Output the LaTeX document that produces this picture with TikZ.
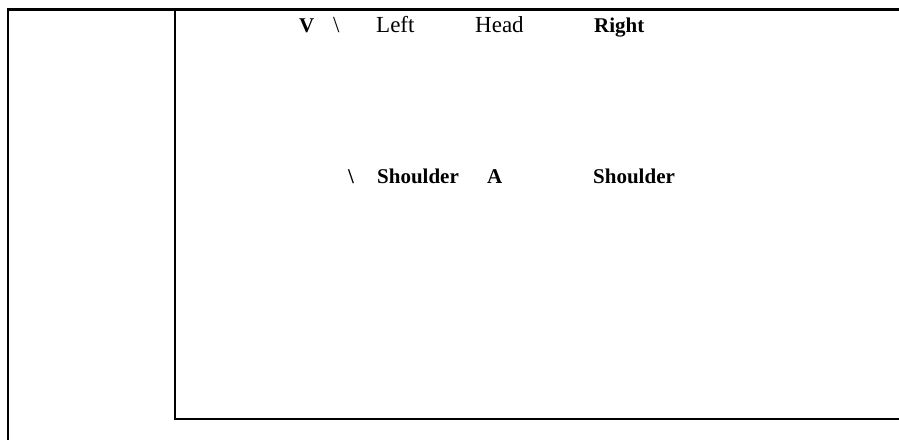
\documentclass[tikz,border=0pt]{standalone}
\usepackage{fontspec}
\setmainfont{Liberation Serif}
\usepackage{xcolor}
\usetikzlibrary{positioning,calc}
\definecolor{tblLine}{HTML}{000000}
\definecolor{tblText}{HTML}{000000}
\tikzset{
  frame line/.style={line width=2.2pt, color=tblLine, line cap=rect},
  head text/.style={anchor=base west, inner sep=0pt, color=tblText,
    font=\fontsize{23}{27}\selectfont},
  head bold/.style={head text, font=\fontsize{21}{25}\selectfont\bfseries},
}
\begin{document}
\begin{tikzpicture}[x=1pt, y=-1pt]
\useasboundingbox (0,0) rectangle (899,439);

% --- FRAME CORNERS ---
\coordinate (outerTL) at (8, 9.5);
\coordinate (outerBL) at (8, 439);
\coordinate (outerTR) at (899, 9.5);
\coordinate (innerT) at (175, 9.5);
\coordinate (innerBL) at (175, 419);
\coordinate (innerBR) at (899, 419);

\draw[frame line] (outerBL) -- (outerTL) -- (outerTR);
\draw[frame line] (innerT) -- (innerBL) -- (innerBR);

% --- TOP ROW ---
\def\rowA{32}
\node[head bold] (vLabel) at (299, \rowA) {V};
\node[head text] (slashA) at (333, \rowA) {\textbackslash};
\node[head text] (leftLabel) at (376, \rowA) {Left};
\node[head text] (headLabel) at (475, \rowA) {Head};
\node[head bold] (rightLabel) at (594, \rowA) {Right};

% --- SHOULDER ROW ---
\def\rowB{183.5}
\node[head bold] (slashB) at (348, \rowB) {\textbackslash};
\node[head bold] (shoulderA) at (377, \rowB) {Shoulder};
\node[head bold] (aLabel) at (487, \rowB) {A};
\node[head bold] (shoulderB) at (593, \rowB) {Shoulder};

\end{tikzpicture}
\end{document}
